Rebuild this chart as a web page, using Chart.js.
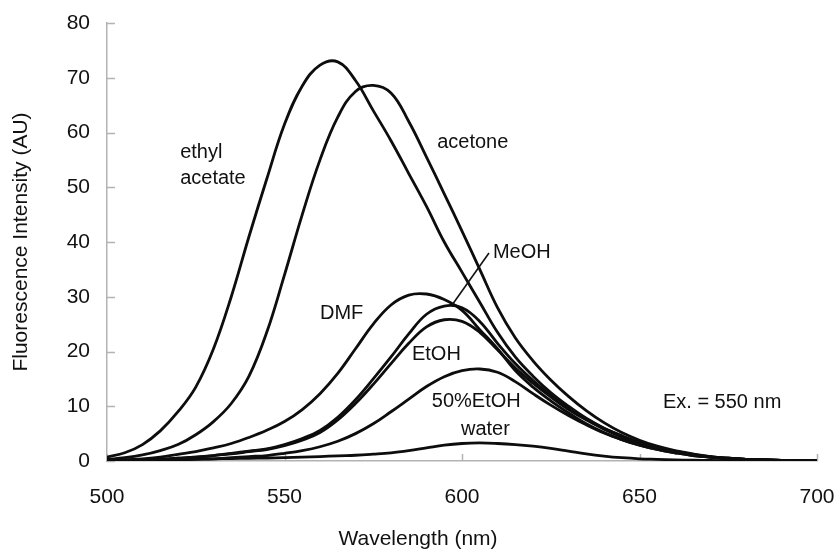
<!DOCTYPE html>
<html lang="en">

<head>
    <meta charset="UTF-8">
    <title>Fluorescence spectra</title>
    <style>
        html, body { margin: 0; padding: 0; background: #fff; }
        #wrap { width: 836px; height: 549px; }
    </style>
</head>

<body>
    <div id="wrap"><canvas id="spectra"></canvas></div>
    <script src="https://cdn.jsdelivr.net/npm/chart.js@4.4.1/dist/chart.umd.min.js"></script>
    <script>
        // wavelength grid (nm)
        const wavelengths = [500, 505, 510, 515, 520, 525, 530, 535, 540, 545,
            550, 555, 560, 565, 570, 575, 580, 585, 590, 595,
            600, 605, 610, 615, 620, 625, 630, 635, 640, 645,
            650, 655, 660, 665, 670, 675, 680, 685, 690, 695, 700]

        // fluorescence intensity (AU)
        const ethylAcetate = [0.7, 1.5, 3, 5.5, 9, 13.5, 20.5, 30, 41, 51.5,
            61.5, 68.5, 72.3, 72.9, 69.5, 64, 58.5, 52.5, 46.5, 40,
            34.5, 29, 23.5, 19, 15.5, 12.5, 10, 7.8, 6, 4.6,
            3.4, 2.5, 1.7, 1.1, 0.7, 0.5, 0.3, 0.2, 0.1, 0.05, 0]
        const acetone = [0.3, 0.6, 1.1, 1.9, 3, 4.8, 7.2, 10.5, 15.5, 23.5,
            34, 45, 55, 62.8, 67.5, 68.6, 67.2, 62, 55.5, 48.8,
            42, 35, 28, 22.5, 18.3, 14.8, 11.8, 9.2, 7, 5.2,
            3.8, 2.7, 1.9, 1.3, 0.8, 0.5, 0.3, 0.2, 0.1, 0.05, 0]
        const dmf = [0.1, 0.2, 0.4, 0.7, 1.2, 1.7, 2.4, 3.2, 4.3, 5.6,
            7.2, 9.4, 12.3, 16, 20.5, 25, 28.5, 30.3, 30.5, 29.5,
            27.5, 24, 20.5, 16.5, 13.5, 11, 8.8, 6.8, 5.2, 3.9,
            2.9, 2.1, 1.5, 1, 0.7, 0.4, 0.3, 0.2, 0.1, 0.05, 0]
        const meoh = [0.05, 0.1, 0.2, 0.3, 0.5, 0.7, 1, 1.4, 1.8, 2.2,
            3, 4.1, 5.6, 8, 11.2, 15, 19, 23.2, 26.8, 28.3,
            28, 25.5, 21.5, 17.8, 14.7, 12, 9.7, 7.7, 6, 4.6,
            3.4, 2.5, 1.8, 1.2, 0.8, 0.5, 0.3, 0.2, 0.1, 0.05, 0]
        const etoh = [0.05, 0.1, 0.2, 0.3, 0.5, 0.7, 1, 1.3, 1.7, 2.1,
            2.8, 3.8, 5.2, 7.5, 10.5, 14, 17.8, 21.5, 24.5, 25.8,
            25.5, 23.5, 20.3, 17, 14.2, 11.7, 9.4, 7.5, 5.8, 4.4,
            3.3, 2.4, 1.7, 1.1, 0.7, 0.5, 0.3, 0.2, 0.1, 0.05, 0]
        const etoh50 = [0, 0.05, 0.1, 0.15, 0.2, 0.3, 0.4, 0.6, 0.8, 1,
            1.4, 1.9, 2.6, 3.6, 5, 6.8, 9, 11.3, 13.6, 15.4,
            16.5, 16.8, 16.2, 14.5, 12.3, 10.2, 8.3, 6.6, 5.1, 3.9,
            2.9, 2.1, 1.5, 1, 0.7, 0.4, 0.3, 0.2, 0.1, 0.05, 0]
        const water = [0.2, 0.2, 0.25, 0.3, 0.3, 0.35, 0.4, 0.45, 0.5, 0.55,
            0.6, 0.7, 0.8, 0.95, 1.05, 1.25, 1.5, 1.9, 2.4, 2.9,
            3.2, 3.3, 3.2, 3, 2.7, 2.3, 1.8, 1.3, 0.9, 0.6,
            0.4, 0.3, 0.2, 0.15, 0.1, 0.05, 0, 0, 0, 0, 0]

        const seriesNames = ['ethyl acetate', 'acetone', 'DMF', 'MeOH', 'EtOH', '50%EtOH', 'water']
        const seriesValues = [ethylAcetate, acetone, dmf, meoh, etoh, etoh50, water]

        // in-plot labels, placed in data units (nm, AU)
        const labelTexts = ['ethyl', 'acetate', 'acetone', 'MeOH', 'DMF', 'EtOH', '50%EtOH', 'water', 'Ex. = 550 nm']
        const labelX = [520.6, 520.6, 593, 608.7, 560, 585.9, 591.5, 599.7, 656.6]
        const labelY = [56.3, 51.6, 58.1, 38, 26.9, 19.4, 10.8, 5.7, 10.6]
        const leaderX = [607.6, 597.2]
        const leaderY = [38, 28.5]

        const fontFamily = "'Liberation Sans', Arial, sans-serif"
        const axisGray = '#b3b3b3'

        const toPoints = vals => vals.map((v, i) => ({ x: wavelengths[i], y: v }))

        const chartData = {
            datasets: seriesValues.map((vals, i) => ({
                label: seriesNames[i],
                data: toPoints(vals),
                borderColor: '#0d0d0d',
                borderWidth: 2.8,
                pointRadius: 0,
                tension: 0.4,
                fill: false
            }))
        }

        const innerTicks = {
            id: 'innerTicks',
            beforeDatasetsDraw(chart) {
                const { ctx, chartArea, scales } = chart
                ctx.save()
                ctx.strokeStyle = axisGray
                ctx.lineWidth = 1.5
                ctx.beginPath()
                scales.y.ticks.forEach(t => {
                    const py = Math.round(scales.y.getPixelForValue(t.value)) + 0.5
                    ctx.moveTo(chartArea.left, py)
                    ctx.lineTo(chartArea.left + 8, py)
                })
                scales.x.ticks.forEach(t => {
                    const px = Math.round(scales.x.getPixelForValue(t.value)) + 0.5
                    ctx.moveTo(px, chartArea.bottom)
                    ctx.lineTo(px, chartArea.bottom - 7)
                })
                ctx.stroke()
                ctx.restore()
            }
        }

        const curveLabels = {
            id: 'curveLabels',
            afterDatasetsDraw(chart) {
                const { ctx, scales: { x, y } } = chart
                ctx.save()
                ctx.fillStyle = '#111'
                ctx.font = `20px ${fontFamily}`
                ctx.textAlign = 'left'
                ctx.textBaseline = 'middle'
                labelTexts.forEach((txt, i) => {
                    ctx.fillText(txt, x.getPixelForValue(labelX[i]), y.getPixelForValue(labelY[i]))
                })
                // leader line from MeOH label
                ctx.strokeStyle = '#111'
                ctx.lineWidth = 1.6
                ctx.beginPath()
                ctx.moveTo(x.getPixelForValue(leaderX[0]), y.getPixelForValue(leaderY[0]))
                ctx.lineTo(x.getPixelForValue(leaderX[1]), y.getPixelForValue(leaderY[1]))
                ctx.stroke()
                // x axis title sits left of centre in the original
                ctx.font = `21px ${fontFamily}`
                ctx.textAlign = 'center'
                ctx.fillStyle = '#111'
                ctx.fillText('Wavelength (nm)', 418, 539)
                ctx.restore()
            }
        }

        const lineConfig = {
            type: 'line',
            data: chartData,
            plugins: [innerTicks, curveLabels],
            options: {
                responsive: true,
                maintainAspectRatio: false,
                animation: false,
                devicePixelRatio: 1,
                layout: { padding: { top: 23, right: 19, left: 0, bottom: 0 } },
                plugins: {
                    legend: { display: false },
                    tooltip: { enabled: false }
                },
                scales: {
                    x: {
                        type: 'linear',
                        min: 500,
                        max: 700,
                        afterFit: s => {
                            s.height = 88
                            s.paddingLeft = 0
                            s.paddingRight = 0
                        },
                        grid: { display: false },
                        border: { display: true, color: axisGray, width: 1.5 },
                        ticks: {
                            stepSize: 50,
                            padding: 16,
                            maxRotation: 0,
                            color: '#111',
                            font: { family: fontFamily, size: 21 }
                        }
                    },
                    y: {
                        min: 0,
                        max: 80,
                        afterFit: s => {
                            s.width = 107
                            s.paddingTop = 0
                            s.paddingBottom = 0
                        },
                        grid: { display: false },
                        border: { display: true, color: axisGray, width: 1.5 },
                        ticks: {
                            stepSize: 10,
                            padding: 9,
                            color: '#111',
                            font: { family: fontFamily, size: 21 }
                        },
                        title: {
                            display: true,
                            text: 'Fluorescence Intensity (AU)',
                            color: '#111',
                            font: { family: fontFamily, size: 21 },
                            padding: { top: 9, bottom: 0 }
                        }
                    }
                }
            }
        }

        const lineChart = new Chart(document.getElementById('spectra'), lineConfig)
    </script>
</body>

</html>
